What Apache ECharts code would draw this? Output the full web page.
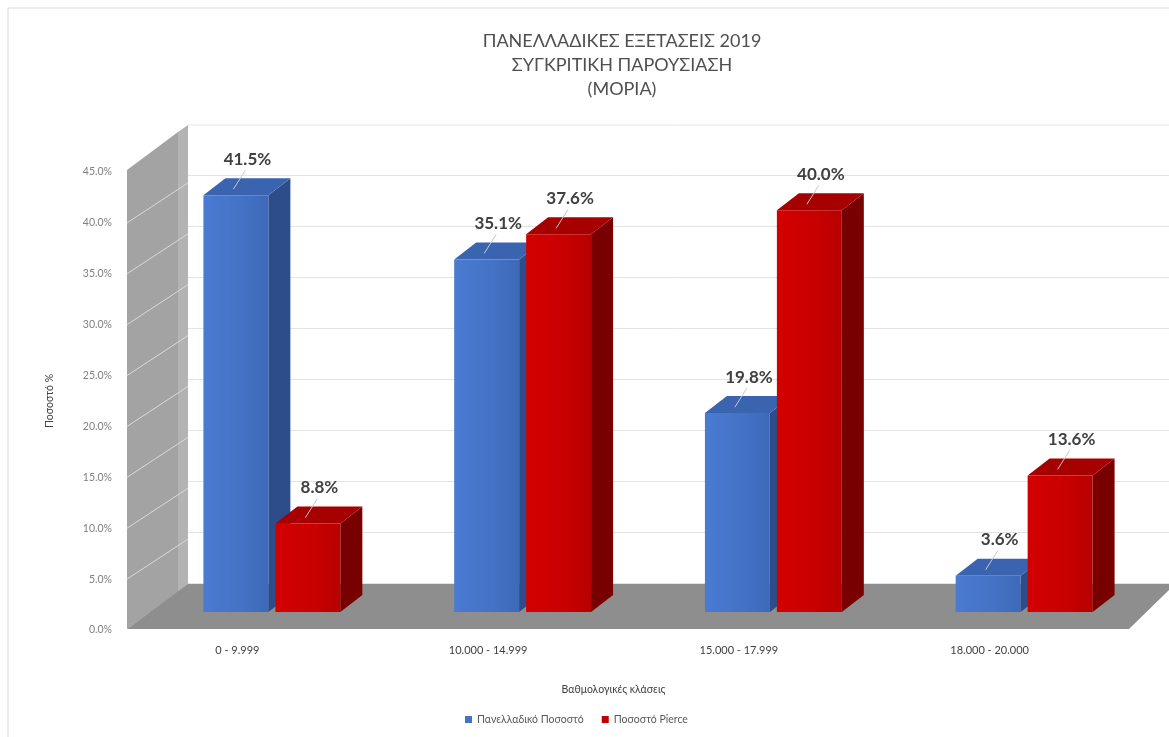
<!DOCTYPE html>
<html><head><meta charset="utf-8">
<script src="https://cdn.jsdelivr.net/npm/echarts@6/dist/echarts.min.js"></script>
<style>html,body{margin:0;padding:0;background:#fff}#c{width:1169px;height:737px}</style>
</head><body><div id="c"></div>
<script>
const categories = ['0 - 9.999', '10.000 - 14.999', '15.000 - 17.999', '18.000 - 20.000'];
const panhellenic = [41.5, 35.1, 19.8, 3.6];
const pierce = [8.8, 37.6, 40.0, 13.6];
const seriesNames = ['Πανελλαδικό Ποσοστό', 'Ποσοστό Pierce'];
const titleLines = ['ΠΑΝΕΛΛΑΔΙΚΕΣ ΕΞΕΤΑΣΕΙΣ 2019', 'ΣΥΓΚΡΙΤΙΚΗ ΠΑΡΟΥΣΙΑΣΗ', '(ΜΟΡΙΑ)'];
const yMin = 0, yMax = 45, yStep = 5;

const FONT = 'Lato, "Open Sans", sans-serif';
const palettes = [
  {front: ['#4a7bd2', '#4472c4', '#3d69b8'], top: '#3a64b0', side: '#2c4d8a', legend: '#4472c4'},
  {front: ['#d40000', '#c80000', '#b80000'], top: '#a60000', side: '#780000', legend: '#c00000'}
];

function makeRender(idx) {
  const pal = palettes[idx];
  return function (params, api) {
    const i = api.value(0), v = api.value(1);
    const t = api.coord([i, v]);
    const b = api.coord([i, 0]);
    const band = api.size([1, 0])[0];
    const w = band * 0.259;
    const L = idx === 0 ? t[0] - band * 0.271 : t[0] + band * 0.016;
    const R = L + w;
    const yt = t[1], yb = b[1];
    const dx = 22, dy = 17;
    const lx = L + 44, ly = yt - 36;
    return {
      type: 'group',
      children: [
        {type: 'polygon', shape: {points: [[R, yt], [R + dx, yt - dy], [R + dx, yb - dy], [R, yb]]},
          style: {fill: pal.side}},
        {type: 'polygon', shape: {points: [[L, yt], [L + dx, yt - dy], [R + dx, yt - dy], [R, yt]]},
          style: {fill: pal.top}},
        {type: 'rect', shape: {x: L, y: yt, width: w, height: yb - yt},
          style: {fill: new echarts.graphic.LinearGradient(0, 0, 1, 0, [
            {offset: 0, color: pal.front[0]}, {offset: 0.6, color: pal.front[1]}, {offset: 1, color: pal.front[2]}])}},
        {type: 'line', shape: {x1: lx - 2, y1: ly + 11, x2: lx - 14, y2: yt - 6},
          style: {stroke: '#c8c8c8', lineWidth: 1}},
        {type: 'text', x: lx, y: ly,
          style: {text: v.toFixed(1) + '%', fill: '#404040', font: 'bold 17px ' + FONT,
            textAlign: 'center', textVerticalAlign: 'middle'}}
      ]
    };
  };
}

const sideLines = [];
for (let k = 1; k <= 8; k++) {
  const y = 630 - k * (458 / 9);
  sideLines.push({type: 'line', z: 1, shape: {x1: 127, y1: y, x2: 188, y2: y - 40},
    style: {stroke: '#dadada', lineWidth: 1}});
}

const chart = echarts.init(document.getElementById('c'));
chart.setOption({
  animation: false,
  backgroundColor: '#ffffff',
  textStyle: {fontFamily: FONT},
  graphic: [
    {type: 'rect', z: 0, shape: {x: 8, y: 8, width: 1180, height: 740}, style: {fill: 'none', stroke: '#d9d9d9', lineWidth: 1}},
    {type: 'line', z: 0, shape: {x1: 188, y1: 125, x2: 1169, y2: 125}, style: {stroke: '#e6e6e6', lineWidth: 1}},
    {type: 'polygon', z: 1, shape: {points: [[127, 170], [178, 132], [178, 592], [127, 629]]}, style: {fill: '#a3a3a3'}},
    {type: 'polygon', z: 1, shape: {points: [[178, 132], [188, 125], [188, 585], [178, 592]]}, style: {fill: '#b3b3b3'}},
    ...sideLines,
    {type: 'polygon', z: 1, shape: {points: [[188, 584], [1169, 584], [1169, 590], [1129, 629], [127, 629]]}, style: {fill: '#8e8e8e'}},
    ...titleLines.map((s, k) => ({type: 'text', z: 5, x: 622, y: 41 + k * 24,
      style: {text: s, fill: '#4f4f4f', font: '18px ' + FONT, textAlign: 'center', textVerticalAlign: 'middle'}}))
  ],
  legend: {
    data: seriesNames, top: 709, left: 460, itemWidth: 7, itemHeight: 7, icon: 'rect', itemGap: 18,
    textStyle: {fontSize: 10.5, color: '#595959', fontFamily: FONT}
  },
  grid: [
    {left: 112, right: 54, top: 172, bottom: 107},
    {left: 188, right: 0, top: 175, bottom: 154},
    {left: 146, right: 20, top: 160, bottom: 125}
  ],
  xAxis: [
    {gridIndex: 0, type: 'category', data: categories, axisLine: {show: false}, axisTick: {show: false},
      axisLabel: {fontSize: 11, color: '#404040', margin: 15},
      name: 'Βαθμολογικές κλάσεις', nameLocation: 'middle', nameGap: 54,
      nameTextStyle: {fontSize: 10.5, color: '#404040'}},
    {gridIndex: 1, type: 'category', data: categories, show: false},
    {gridIndex: 2, type: 'category', data: categories, show: false}
  ],
  yAxis: [
    {gridIndex: 0, type: 'value', min: yMin, max: yMax, interval: yStep, splitLine: {show: false},
      axisLine: {show: false}, axisTick: {show: false},
      axisLabel: {fontSize: 10.5, color: '#7f7f7f', margin: 0, formatter: v => v.toFixed(1) + '%'},
      name: 'Ποσοστό %', nameLocation: 'middle', nameRotate: 90, nameGap: 57,
      nameTextStyle: {fontSize: 10.5, color: '#404040'}},
    {gridIndex: 1, type: 'value', min: yMin + yStep, max: yMax, interval: yStep,
      axisLine: {show: false}, axisTick: {show: false}, axisLabel: {show: false},
      splitLine: {lineStyle: {color: '#e3e3e3', width: 1}}},
    {gridIndex: 2, type: 'value', min: yMin, max: yMax, show: false}
  ],
  series: [
    {name: seriesNames[0], type: 'custom', xAxisIndex: 2, yAxisIndex: 2, z: 3,
      itemStyle: {color: palettes[0].legend}, encode: {x: 0, y: 1},
      data: categories.map((c, i) => [i, panhellenic[i]]), renderItem: makeRender(0)},
    {name: seriesNames[1], type: 'custom', xAxisIndex: 2, yAxisIndex: 2, z: 4,
      itemStyle: {color: palettes[1].legend}, encode: {x: 0, y: 1},
      data: categories.map((c, i) => [i, pierce[i]]), renderItem: makeRender(1)}
  ]
});
</script></body></html>
